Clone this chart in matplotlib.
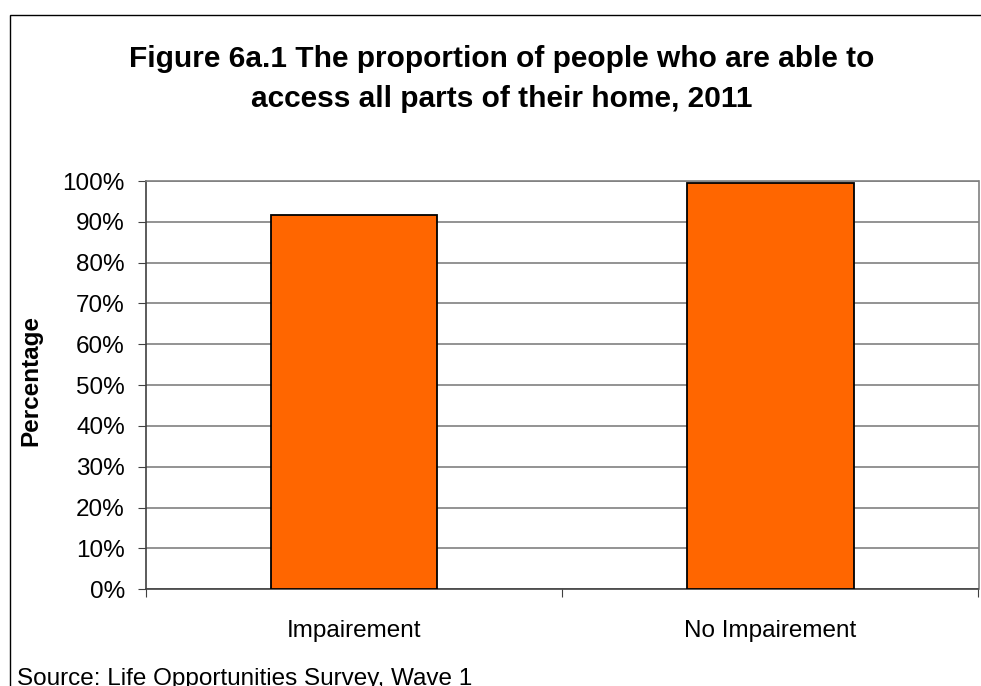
import matplotlib.pyplot as plt
from matplotlib.patches import Rectangle
from matplotlib.ticker import MultipleLocator, PercentFormatter

plt.rcParams['font.family'] = ['Liberation Sans', 'DejaVu Sans']

groups = ['Impairement', 'No Impairement']
share_pct = [91.7, 99.6]
title_lines = ['Figure 6a.1 The proportion of people who are able to',
               'access all parts of their home, 2011']

W, H = 981, 686
fig = plt.figure(figsize=(W / 100, H / 100), dpi=100)

# outer chart frame, runs off the right and bottom edges
fig.patches.append(Rectangle((9.5 / W, -0.1), 1.2, 1.1 - 15 / H, transform=fig.transFigure,
                             fill=False, edgecolor='black', linewidth=1.0))

ax = fig.add_axes([145.7 / W, 1 - 589.3 / H, (978.5 - 145.7) / W, (589.3 - 181) / H])
ax.bar(range(len(groups)), share_pct, width=0.4, color='#FF6600', edgecolor='black',
       linewidth=1.3, zorder=3)

ax.set_xlim(-0.5, 1.5)
ax.set_ylim(0, 100)
ax.yaxis.set_major_locator(MultipleLocator(10))
ax.yaxis.set_major_formatter(PercentFormatter(decimals=0))
ax.grid(axis='y', color='#808080', linewidth=1.2, zorder=0)

ax.set_xticks([-0.5, 0.5, 1.5], minor=False)
ax.set_xticklabels([])
ax.set_xticks([0, 1], minor=True)
ax.set_xticklabels(groups, minor=True, fontsize=17.5)
ax.tick_params(axis='x', which='minor', length=0, pad=22)
ax.tick_params(axis='x', which='major', length=6, color='#404040')
ax.tick_params(axis='y', length=6, labelsize=17.5, pad=9, color='#404040')

for side in ['top', 'right']:
    ax.spines[side].set_color('#808080')
    ax.spines[side].set_linewidth(1.2)
for side in ['left', 'bottom']:
    ax.spines[side].set_color('#404040')
    ax.spines[side].set_linewidth(1.2)

fig.text(31 / W, 1 - 381 / H, 'Percentage', rotation=90, ha='center', va='center',
         fontsize=17.5, fontweight='bold')

# two-line title, baselines set one by one
for line, base_y in zip(title_lines, [67, 107]):
    fig.text(0.5 * (130 + 873) / W, 1 - base_y / H, line,
             ha='center', va='baseline', fontsize=21.5, fontweight='bold')

fig.text(17 / W, 1 - 685 / H, 'Source: Life Opportunities Survey, Wave 1',
         ha='left', va='baseline', fontsize=17.5)

fig.savefig('out.png', dpi=100)
